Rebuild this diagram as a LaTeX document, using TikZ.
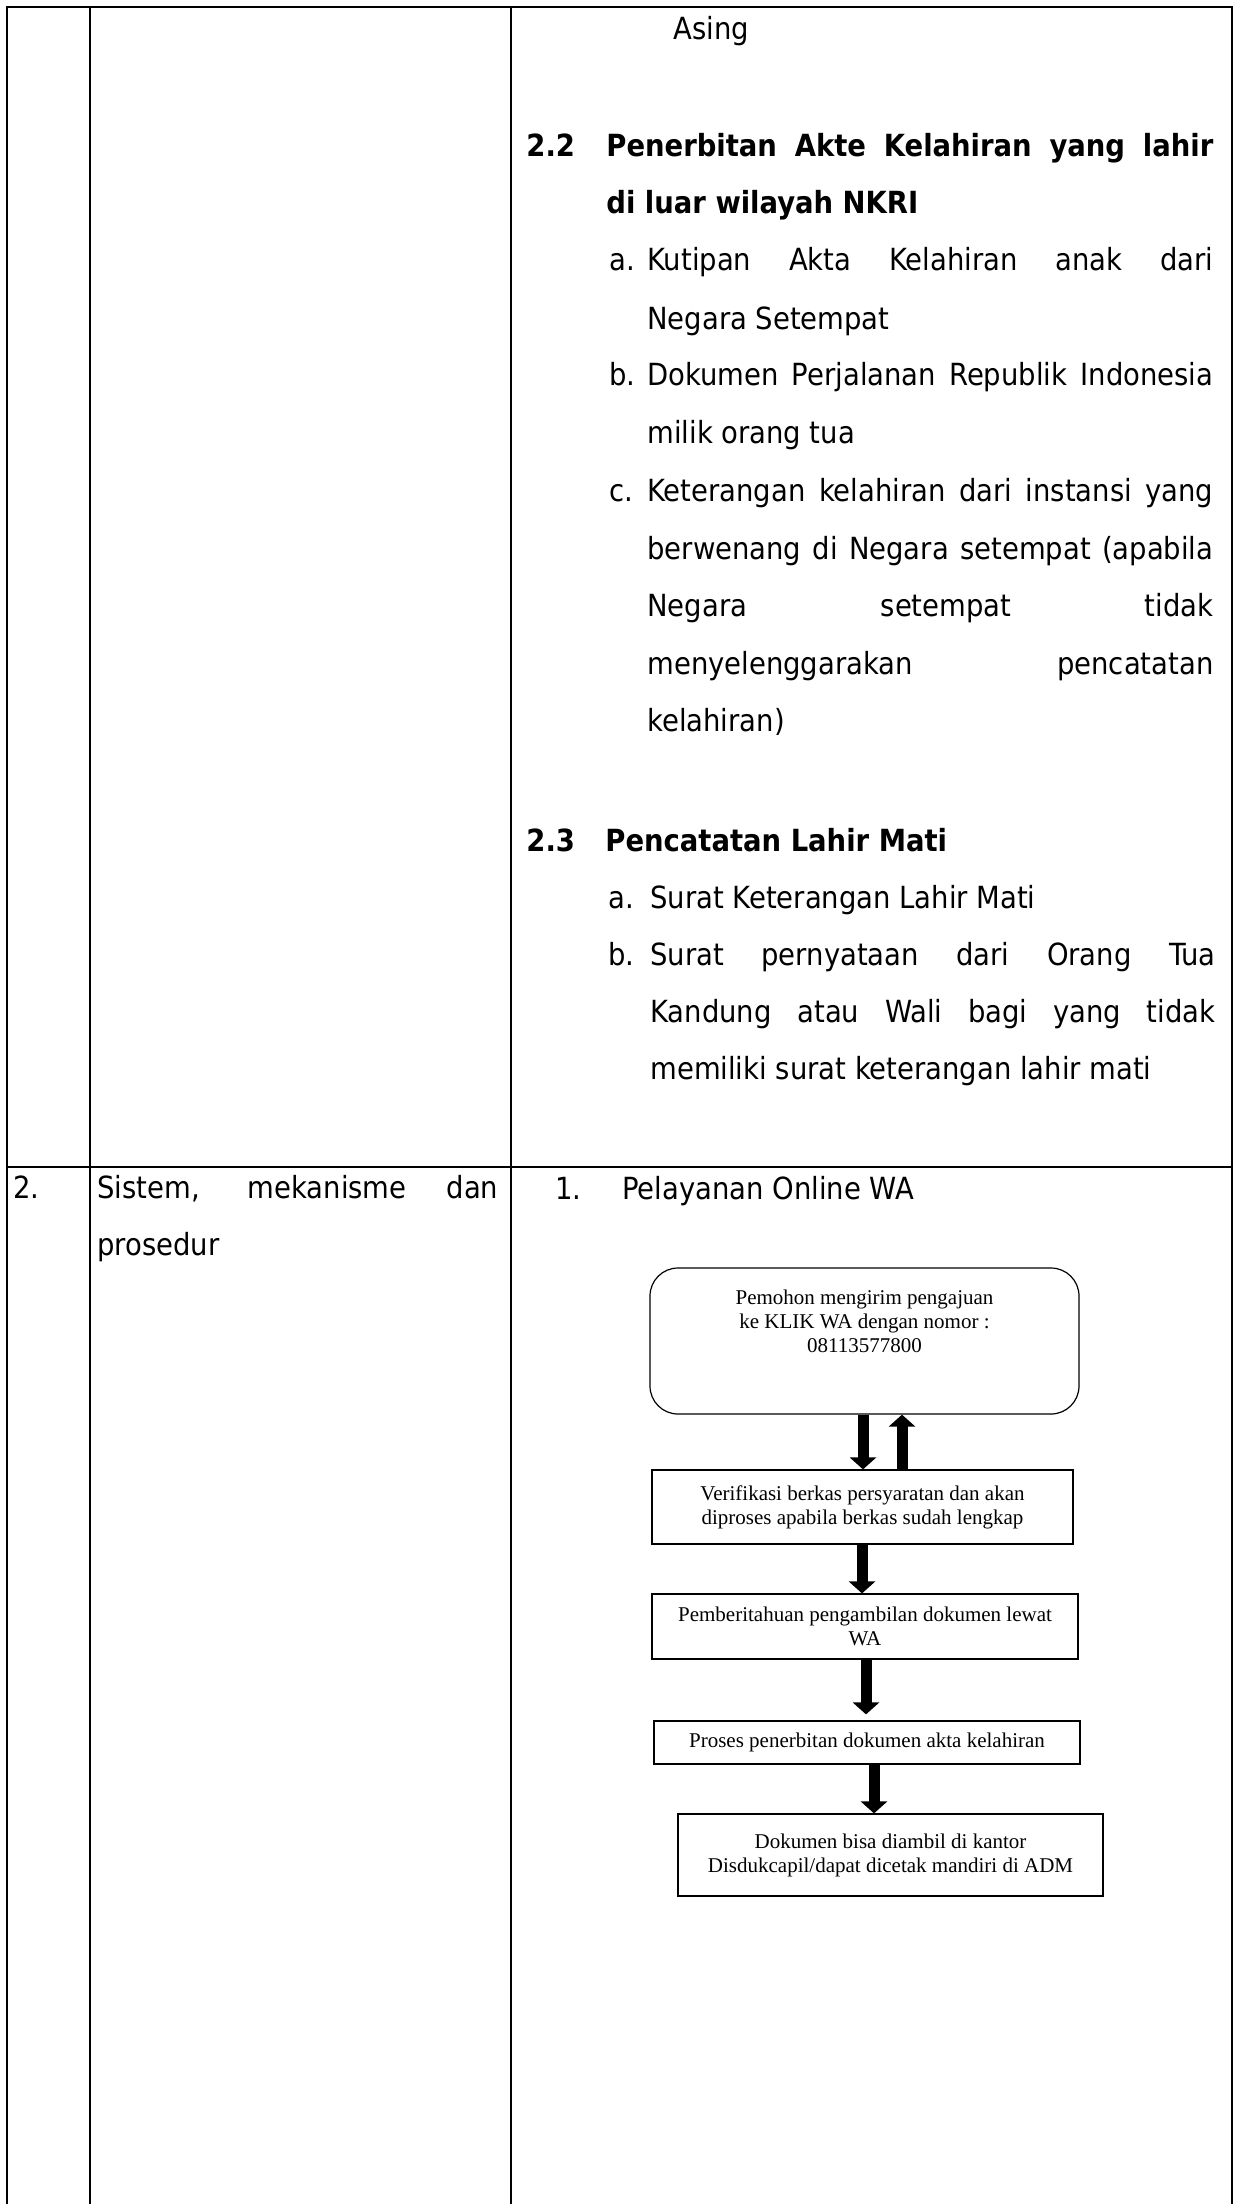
\documentclass[tikz,border=0pt]{standalone}
\usepackage{fontspec}
\usetikzlibrary{arrows.meta}
\newfontfamily\tah{DejaVu Sans Condensed}
\newfontfamily\tms{Liberation Serif}
% a line of text stretched to a fixed width (justified line)
\newcommand\jline[2]{\makebox[#1][s]{#2}}
\begin{document}
\begin{tikzpicture}[x=0.5pt,y=-0.5pt,
  rule/.style={line width=0.85pt},
  body/.style={anchor=base west, inner sep=0pt, font=\tah\fontsize{15.25pt}{28.75pt}\selectfont},
  headtxt/.style={anchor=base west, inner sep=0pt, font=\tah\bfseries\fontsize{15.25pt}{28.75pt}\selectfont},
  flowfont/.style={font=\tms\fontsize{10.5pt}{12pt}\selectfont},
  flowbox/.style={draw, line width=0.6pt, inner sep=0pt, align=center, flowfont},
  fatarrow/.style={line width=5.5pt, -{Triangle[width=13pt,length=6pt]}},
]
\fill[white] (0,0) rectangle (1235,2204);
\useasboundingbox (0,0) rectangle (1235,2204);

% table grid
\draw[rule] (7,2204) -- (7,7) -- (1232,7) -- (1232,2204);
\draw[rule] (90,7) -- (90,2204);
\draw[rule] (511,7) -- (511,2204);
\draw[rule] (7,1167) -- (1232,1167);

% requirements, continued
\node[body] (asing) at (673,40) {Asing};
\node[headtxt] (n22) at (526,157) {2.2};
\node[headtxt] (t22a) at (606,157) {\jline{303.5pt}{Penerbitan Akte Kelahiran yang lahir}};
\node[headtxt] (t22b) at (606,214) {di luar wilayah NKRI};
\node[body] (la) at (609,271) {a.};
\node[body] (ta1) at (647,271) {\jline{283pt}{Kutipan Akta Kelahiran anak dari}};
\node[body] (ta2) at (647,329) {Negara Setempat};
\node[body] (lb) at (609,386) {b.};
\node[body] (tb1) at (647,386) {\jline{283pt}{Dokumen Perjalanan Republik Indonesia}};
\node[body] (tb2) at (647,444) {milik orang tua};
\node[body] (lc) at (609,501) {c.};
\node[body] (tc1) at (647,501) {\jline{283pt}{Keterangan kelahiran dari instansi yang}};
\node[body] (tc2) at (647,559) {\jline{283pt}{berwenang di Negara setempat (apabila}};
\node[body] (tc3) at (647,616) {\jline{283pt}{Negara setempat tidak}};
\node[body] (tc4) at (647,674) {\jline{283pt}{menyelenggarakan pencatatan}};
\node[body] (tc5) at (647,731) {kelahiran)};

\node[headtxt] (n23) at (526,851) {2.3};
\node[headtxt] (t23) at (605,851) {Pencatatan Lahir Mati};
\node[body] (ma) at (608,908) {a.};
\node[body] (sa) at (650,908) {Surat Keterangan Lahir Mati};
\node[body] (mb) at (608,965) {b.};
\node[body] (sb1) at (650,965) {\jline{282.5pt}{Surat pernyataan dari Orang Tua}};
\node[body] (sb2) at (650,1022) {\jline{282.5pt}{Kandung atau Wali bagi yang tidak}};
\node[body] (sb3) at (650,1079) {memiliki surat keterangan lahir mati};

% row 2
\node[body] (no2) at (13,1198) {2.};
\node[body] (sis1) at (97,1198) {\jline{200.5pt}{Sistem, mekanisme dan}};
\node[body] (sis2) at (97,1255) {prosedur};
\node[body] (no1) at (555,1199) {1.};
\node[body] (pel) at (622,1199) {Pelayanan Online WA};

% flowchart
\node[flowbox, rounded corners=14pt, minimum width=214.5pt, minimum height=73pt] (rbox) at (864.5,1341) {};
\node[anchor=north, inner sep=0pt, align=center, flowfont] (rtext) at ([yshift=-11.3pt]rbox.north)
  {Pemohon mengirim pengajuan\\ke KLIK WA dengan nomor :\\08113577800};
\node[flowbox, minimum width=210.5pt, minimum height=37pt] (verif) at (862.5,1507)
  {Verifikasi berkas persyaratan dan akan\\diproses apabila berkas sudah lengkap};
\node[flowbox, minimum width=213pt, minimum height=32.5pt] (pemb) at (865,1626.5)
  {Pemberitahuan pengambilan dokumen lewat\\WA};
\node[flowbox, minimum width=213pt, minimum height=21.5pt] (proses) at (867,1742.5)
  {Proses penerbitan dokumen akta kelahiran};
\node[flowbox, minimum width=212.5pt, minimum height=41pt] (dok) at (890.5,1855)
  {Dokumen bisa diambil di kantor\\Disdukcapil/dapat dicetak mandiri di ADM};

\coordinate (c1) at (863,0);
\coordinate (c2) at (902,0);
\coordinate (c3) at (862,0);
\coordinate (c4) at (866,0);
\coordinate (c5) at (874,0);
\draw[fatarrow] (rbox.south -| c1) -- (verif.north -| c1);
\draw[fatarrow] (verif.north -| c2) -- (rbox.south -| c2);
\draw[fatarrow] (verif.south -| c3) -- (pemb.north -| c3);
\draw[fatarrow, shorten >=3pt] (pemb.south -| c4) -- (proses.north -| c4);
\draw[fatarrow] (proses.south -| c5) -- (dok.north -| c5);
\end{tikzpicture}
\end{document}
